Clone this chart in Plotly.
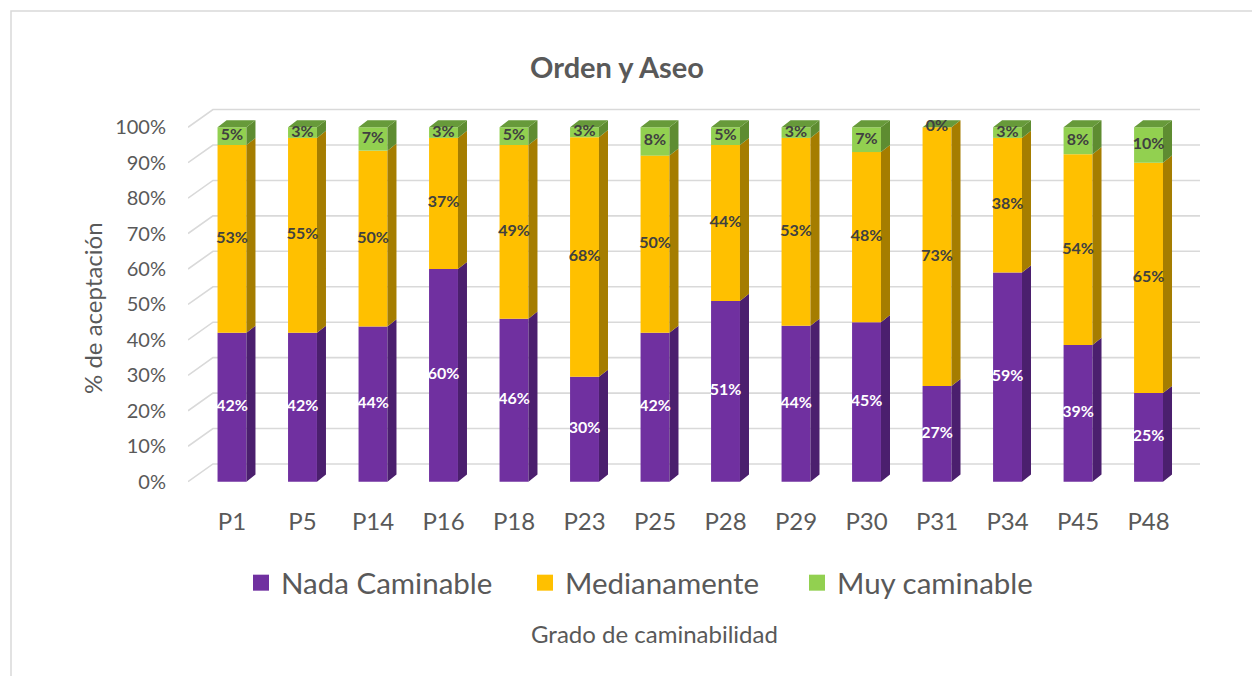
import plotly.graph_objects as go

# ---------------- data ----------------
categories = ["P1", "P5", "P14", "P16", "P18", "P23", "P25", "P28", "P29", "P30", "P31", "P34", "P45", "P48"]
nada_caminable = [42, 42, 43.8, 60, 46, 29.6, 42, 51, 44, 45, 27, 59, 38.6, 25]
medianamente = [53, 55, 49.6, 37, 49, 67.6, 50, 44, 53, 48, 73, 38, 53.8, 65]
muy_caminable = [5, 3, 6.6, 3, 5, 2.8, 8, 5, 3, 7, 0, 3, 7.6, 10]
series_names = ["Nada Caminable", "Medianamente", "Muy caminable"]
y_ticks = [0, 10, 20, 30, 40, 50, 60, 70, 80, 90, 100]
y_tick_labels = [f"{v}%" for v in y_ticks]

# ---------------- style ----------------
FONT = "Lato"
TXT = "#595959"
front_colors = ["#7030A0", "#FFC000", "#92D050"]
side_colors = ["#4B1F6E", "#A57D00", "#5E8C31"]
top_color = "#679A3A"
label_colors = ["#FFFFFF", "#404040", "#404040"]
GRID = "#D9D9D9"

W = 0.41      # bar front width (category units)
DX = 0.128    # bar depth, x
DYB = 2.0     # bar depth, y (%)
XL, XB, XE = -0.624, -0.27, 13.73   # left wall front, back wall start, right end
DYG = 5.0     # back wall vertical shift (%)

FIG_W, FIG_H = 1252, 676
ML, MR, MT, MB = 188, 52, 106, 189
PW, PH = FIG_W - ML - MR, FIG_H - MT - MB


def px_x(px):
    return (px - ML) / PW


def px_y(py):
    return (FIG_H - MB - py) / PH


xs = list(range(len(categories)))
series = [nada_caminable, medianamente, muy_caminable]

fig = go.Figure()

# ---- back-wall gridlines (subplot xy, drawn underneath) ----
gx, gy = [], []
for v in y_ticks:
    gx += [XL, XB, XE, None]
    gy += [v, v + DYG, v + DYG, None]
fig.add_trace(go.Scatter(x=gx, y=gy, mode="lines", line=dict(color=GRID, width=1.6),
                         hoverinfo="skip", showlegend=False, xaxis="x", yaxis="y"))

# ---- bars (subplot x2y2, drawn on top) ----
bottoms = [0.0] * len(xs)
for k, vals in enumerate(series):
    tops = [b + v for b, v in zip(bottoms, vals)]
    # front face
    fig.add_trace(go.Bar(x=xs, y=vals, base=bottoms, width=W, marker=dict(color=front_colors[k], line=dict(width=0)),
                         name=series_names[k], showlegend=False, hoverinfo="skip", xaxis="x2", yaxis="y2"))
    # side face
    sx, sy = [], []
    for i, b, t in zip(xs, bottoms, tops):
        xr = i + W / 2
        sx += [xr, xr + DX, xr + DX, xr, xr, None]
        sy += [b, b + DYB, t + DYB, t, b, None]
    fig.add_trace(go.Scatter(x=sx, y=sy, mode="lines", fill="toself", fillcolor=side_colors[k],
                             line=dict(width=0, color=side_colors[k]), hoverinfo="skip", showlegend=False,
                             xaxis="x2", yaxis="y2"))
    bottoms = tops

# top face of the stack
tx, ty = [], []
for i, t in zip(xs, bottoms):
    xl, xr = i - W / 2, i + W / 2
    tx += [xl, xl + DX, xr + DX, xr, xl, None]
    ty += [t, t + DYB, t + DYB, t, t, None]
fig.add_trace(go.Scatter(x=tx, y=ty, mode="lines", fill="toself", fillcolor=top_color,
                         line=dict(width=0, color=top_color), hoverinfo="skip", showlegend=False,
                         xaxis="x2", yaxis="y2"))

# data labels
bottoms = [0.0] * len(xs)
for k, vals in enumerate(series):
    mids = [b + v / 2 for b, v in zip(bottoms, vals)]
    fig.add_trace(go.Scatter(x=xs, y=mids, mode="text", text=[f"{round(v)}%" for v in vals],
                             textfont=dict(family=FONT, size=16, color=label_colors[k], weight="bold"),
                             textposition="middle center", cliponaxis=False, hoverinfo="skip",
                             showlegend=False, xaxis="x2", yaxis="y2"))
    bottoms = [b + v for b, v in zip(bottoms, vals)]

# legend entries (one legend per entry, to place them like the original)
legend_ids = ["legend", "legend2", "legend3"]
legend_left_px = [241, 525, 797]
for k in range(3):
    fig.add_trace(go.Scatter(x=[None], y=[None], mode="markers", name=series_names[k],
                             marker=dict(symbol="square", size=17, color=front_colors[k]),
                             legend=legend_ids[k], showlegend=True, xaxis="x", yaxis="y"))

legend_common = dict(orientation="h", yanchor="middle", xanchor="left", bgcolor="rgba(0,0,0,0)",
                     font=dict(family=FONT, size=29.5, color=TXT), borderwidth=0)
leg_layout = {}
for k in range(3):
    leg_layout[legend_ids[k]] = dict(x=px_x(legend_left_px[k]), y=px_y(583), **legend_common)

x_range = [XL, XE]
y_range = [-1.5, 106]

fig.update_layout(
    width=FIG_W, height=FIG_H,
    margin=dict(l=ML, r=MR, t=MT, b=MB, pad=0),
    paper_bgcolor="white", plot_bgcolor="rgba(0,0,0,0)",
    title=dict(text="Orden y Aseo", x=617 / FIG_W, y=1 - 68 / FIG_H, xanchor="center", yanchor="middle",
               xref="container", yref="container",
               font=dict(family=FONT, size=29, color=TXT, weight="bold")),
    xaxis=dict(range=x_range, tickvals=xs, ticktext=categories, showgrid=False, zeroline=False, showline=False,
               ticks="outside", ticklen=13, tickcolor="rgba(0,0,0,0)",
               tickfont=dict(family=FONT, size=24, color=TXT), domain=[0, 1], anchor="y"),
    yaxis=dict(range=y_range, tickvals=y_ticks, ticktext=y_tick_labels, showgrid=False, zeroline=False,
               showline=False, ticks="outside", ticklen=17, tickcolor="rgba(0,0,0,0)",
               tickfont=dict(family=FONT, size=20, color=TXT), domain=[0, 1], anchor="x"),
    xaxis2=dict(range=x_range, visible=False, domain=[0, 1], anchor="y2"),
    yaxis2=dict(range=y_range, visible=False, domain=[0, 1], anchor="x2"),
    barmode="overlay",
    annotations=[
        dict(text="% de aceptación", x=px_x(92), y=px_y(308), xref="paper", yref="paper", showarrow=False,
             textangle=-90, xanchor="center", yanchor="middle", font=dict(family=FONT, size=24, color=TXT)),
        dict(text="Grado de caminabilidad", x=px_x(654), y=px_y(633), xref="paper", yref="paper", showarrow=False,
             xanchor="center", yanchor="middle", font=dict(family=FONT, size=24, color=TXT)),
    ],
    shapes=[dict(type="rect", xref="paper", yref="paper", x0=px_x(11), x1=px_x(1265), y0=px_y(700), y1=px_y(11),
                 line=dict(color=GRID, width=1.5), fillcolor="rgba(0,0,0,0)", layer="below")],
    **leg_layout,
)

fig.write_html("out.html", config={"displayModeBar": False},
               post_script="document.body.style.margin='0';document.body.style.overflow='hidden';")
